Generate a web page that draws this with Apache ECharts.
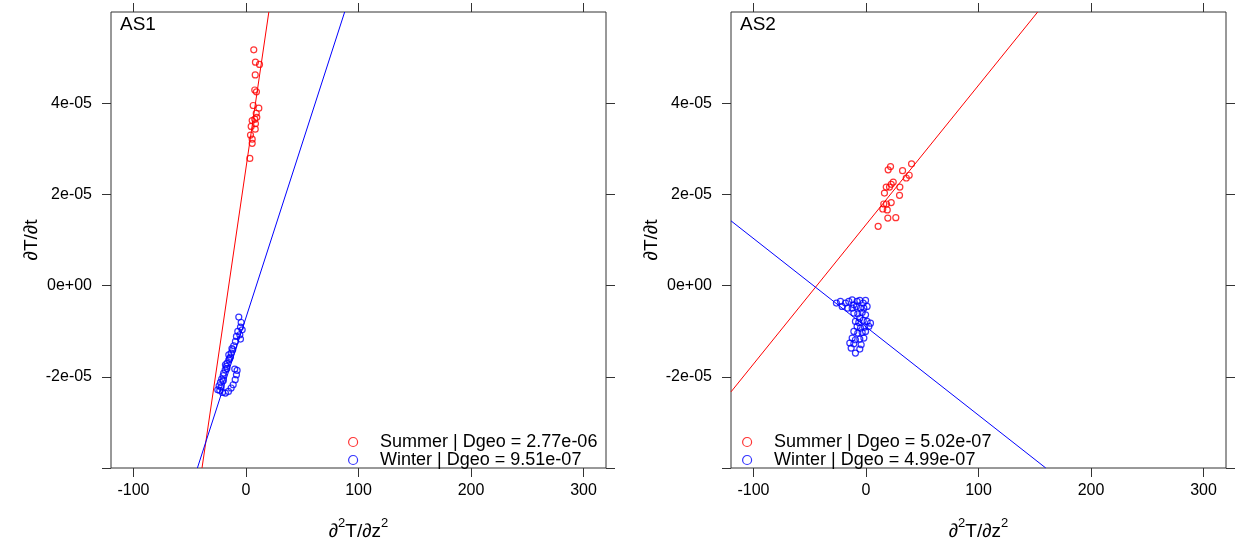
<!DOCTYPE html>
<html>
<head>
<meta charset="utf-8">
<script src="https://cdn.jsdelivr.net/npm/echarts@6/dist/echarts.min.js"></script>
<style>html,body{margin:0;padding:0;background:#fff}#c{width:1241px;height:546px}</style>
</head>
<body>
<div id="c"></div>
<script>
// ---------- data ----------
const panelTitles = ['AS1', 'AS2'];
const xTicks = [-100, 0, 100, 200, 300];
const yTickVals = [-4e-5, -2e-5, 0, 2e-5, 4e-5];
const yLabelVals = [-2e-5, 0, 2e-5, 4e-5];
const xRange = [-120, 320];
const yRange = [-4e-5, 6e-5];
const legendNames = [
  ['Summer | Dgeo = 2.77e-06', 'Winter | Dgeo = 9.51e-07'],
  ['Summer | Dgeo = 5.02e-07', 'Winter | Dgeo = 4.99e-07']
];

// AS1 summer points
const as1SummerX = [6.9, 8.4, 12.0, 8.2, 7.8, 9.3, 6.4, 11.4, 9.1, 9.6, 5.5, 7.8, 4.6, 8.4, 8.2, 4.0, 5.5, 5.5, 3.4];
const as1SummerY = [5.17e-5, 4.90e-5, 4.85e-5, 4.62e-5, 4.29e-5, 4.25e-5, 3.95e-5, 3.89e-5, 3.78e-5, 3.69e-5, 3.62e-5, 3.65e-5, 3.49e-5, 3.55e-5, 3.43e-5, 3.30e-5, 3.21e-5, 3.12e-5, 2.79e-5];
// AS1 winter points
const as1WinterX = [-6.4, -4.3, -4.9, -3.4, -7.3, -5.5, -8.5, -4.9, -9.4, -10.9, -11.8, -13.2, -13.8, -15.3, -16.8, -17.4, -18.5, -19.8, -20.3, -21.6, -22.7, -23.9, -25.1, -22.1, -18.3, -15.3, -12.5, -14.6, -17.0, -20.1, -10.0, -7.9, -8.5, -9.6, -11.4, -13.2, -15.6, -18.3, -20.9, -23.3];
const as1WinterY = [-6.9e-6, -8.09e-6, -9.09e-6, -9.69e-6, -1.006e-5, -1.078e-5, -1.115e-5, -1.172e-5, -1.225e-5, -1.319e-5, -1.407e-5, -1.479e-5, -1.567e-5, -1.626e-5, -1.698e-5, -1.773e-5, -1.845e-5, -1.918e-5, -1.977e-5, -2.049e-5, -2.124e-5, -2.196e-5, -2.284e-5, -2.224e-5, -1.736e-5, -1.517e-5, -1.380e-5, -1.600e-5, -1.820e-5, -2.080e-5, -1.830e-5, -1.861e-5, -1.955e-5, -2.064e-5, -2.174e-5, -2.246e-5, -2.321e-5, -2.356e-5, -2.343e-5, -2.299e-5];
// AS2 summer points
const as2SummerX = [21.8, 19.7, 32.5, 40.5, 38.4, 35.8, 24.2, 22.4, 18.0, 30.1, 16.4, 20.9, 29.8, 15.8, 22.4, 18.2, 14.9, 18.9, 19.4, 26.5, 10.8];
const as2SummerY = [2.61e-5, 2.54e-5, 2.52e-5, 2.67e-5, 2.42e-5, 2.36e-5, 2.27e-5, 2.22e-5, 2.16e-5, 2.16e-5, 2.03e-5, 2.16e-5, 1.98e-5, 1.79e-5, 1.82e-5, 1.79e-5, 1.68e-5, 1.66e-5, 1.48e-5, 1.49e-5, 1.30e-5];
// AS2 winter points
const as2WinterX = [-26.3, -22.7, -21.2, -18.2, -15.3, -12.3, -10.8, -7.9, -5.5, -2.5, -0.4, -16.2, -12.3, -8.5, -4.9, -1.9, 1.0, -10.8, -7.3, -3.4, -0.4, -5.5, -9.4, -6.4, -2.5, 1.0, 4.0, -7.9, -4.9, -1.3, 2.5, -10.8, -7.3, -3.4, -0.4, -12.3, -9.4, -5.5, -1.9, -14.4, -10.8, -4.3, -13.2, -5.5, -9.4];
const as2WinterY = [-3.84e-6, -3.48e-6, -4.57e-6, -3.84e-6, -3.48e-6, -3.11e-6, -4.21e-6, -3.48e-6, -3.26e-6, -3.84e-6, -3.26e-6, -4.94e-6, -4.94e-6, -4.57e-6, -4.94e-6, -4.94e-6, -4.57e-6, -6.03e-6, -6.18e-6, -5.89e-6, -6.40e-6, -7.13e-6, -7.86e-6, -8.08e-6, -7.64e-6, -7.86e-6, -8.23e-6, -8.96e-6, -9.32e-6, -9.10e-6, -8.96e-6, -1.005e-5, -1.042e-5, -1.027e-5, -1.005e-5, -1.151e-5, -1.188e-5, -1.173e-5, -1.151e-5, -1.261e-5, -1.275e-5, -1.297e-5, -1.370e-5, -1.392e-5, -1.480e-5];

// fitted lines (endpoints where they leave the panel)
const as1SummerLineX = [-39.1, 20.3];
const as1SummerLineY = [-4e-5, 6e-5];
const as1WinterLineX = [-43.2, 87.7];
const as1WinterLineY = [-4e-5, 6e-5];
const as2SummerLineX = [-120, 152.6];
const as2SummerLineY = [-2.33e-5, 6e-5];
const as2WinterLineX = [-120, 159.8];
const as2WinterLineY = [1.42e-5, -4e-5];

// ---------- chart ----------
const RED = '#ff0000', BLUE = '#0000ff';
const zip = (xs, ys) => xs.map((x, i) => [x, ys[i]]);
const fmtY = v => {
  if (Math.abs(v) < 1e-12) return '0e+00';
  const e = Math.floor(Math.log10(Math.abs(v)) + 1e-9);
  const m = Math.round(v / Math.pow(10, e));
  return m + 'e' + (e < 0 ? '-' : '+') + String(Math.abs(e)).padStart(2, '0');
};
const FONT = 'Liberation Sans, Arial, sans-serif';
const grids = [
  { left: 111, top: 12, width: 495, height: 456 },
  { left: 731, top: 12, width: 495, height: 456 }
];
const tickStyle = { color: '#333', width: 1 };
const noLine = { show: false, onZero: false };
const xAxes = [], yAxes = [];
[0, 1].forEach(g => {
  xAxes.push({
    gridIndex: g, type: 'value', min: xRange[0], max: xRange[1], position: 'bottom',
    axisLine: noLine,
    axisTick: { show: true, customValues: xTicks, length: 9, lineStyle: tickStyle },
    axisLabel: { customValues: xTicks, margin: 15, fontSize: 16, color: '#000', fontFamily: FONT },
    splitLine: { show: false },
    name: '{a|∂}{s|2}{a|T/∂z}{s|2}', nameLocation: 'middle', nameGap: 49,
    nameTextStyle: {
      fontFamily: FONT, color: '#000',
      rich: {
        a: { fontSize: 19, lineHeight: 24, fontFamily: FONT, color: '#000', verticalAlign: 'bottom' },
        s: { fontSize: 13, lineHeight: 24, fontFamily: FONT, color: '#000', verticalAlign: 'top' }
      }
    }
  });
  xAxes.push({
    gridIndex: g, type: 'value', min: xRange[0], max: xRange[1], position: 'top',
    axisLine: noLine,
    axisTick: { show: true, customValues: xTicks, length: 9, lineStyle: tickStyle },
    axisLabel: { show: false }, splitLine: { show: false }
  });
  yAxes.push({
    gridIndex: g, type: 'value', min: yRange[0], max: yRange[1], position: 'left',
    axisLine: noLine,
    axisTick: { show: true, customValues: yTickVals, length: 9, lineStyle: tickStyle },
    axisLabel: { customValues: yLabelVals, margin: 19, fontSize: 16, color: '#000', fontFamily: FONT, formatter: fmtY },
    splitLine: { show: false },
    name: '∂T/∂t', nameLocation: 'middle', nameGap: 70,
    nameTextStyle: { fontSize: 19, color: '#000', fontFamily: FONT }
  });
  yAxes.push({
    gridIndex: g, type: 'value', min: yRange[0], max: yRange[1], position: 'right',
    axisLine: noLine,
    axisTick: { show: true, customValues: yTickVals, length: 9, lineStyle: tickStyle },
    axisLabel: { show: false }, splitLine: { show: false }
  });
});

const scatter = (name, g, data, color) => ({
  name, type: 'scatter', xAxisIndex: g * 2, yAxisIndex: g * 2, data,
  symbol: 'circle', symbolSize: 6,
  itemStyle: { color: 'transparent', borderColor: color, borderWidth: 1.2 },
  emphasis: { disabled: true }, z: 2
});
const fitLine = (name, g, data, color) => ({
  name, type: 'line', xAxisIndex: g * 2, yAxisIndex: g * 2, data,
  showSymbol: false, symbol: 'none', clip: true,
  lineStyle: { color, width: 1 }, emphasis: { disabled: true }, z: 3
});

const series = [
  scatter(legendNames[0][0], 0, zip(as1SummerX, as1SummerY), RED),
  scatter(legendNames[0][1], 0, zip(as1WinterX, as1WinterY), BLUE),
  fitLine('fit-as1-s', 0, zip(as1SummerLineX, as1SummerLineY), RED),
  fitLine('fit-as1-w', 0, zip(as1WinterLineX, as1WinterLineY), BLUE),
  scatter(legendNames[1][0], 1, zip(as2SummerX, as2SummerY), RED),
  scatter(legendNames[1][1], 1, zip(as2WinterX, as2WinterY), BLUE),
  fitLine('fit-as2-s', 1, zip(as2SummerLineX, as2SummerLineY), RED),
  fitLine('fit-as2-w', 1, zip(as2WinterLineX, as2WinterLineY), BLUE)
];

const legendLefts = [348, 742];
const legends = [0, 1].map(g => ({
  orient: 'vertical', left: legendLefts[g], top: 433, padding: 0,
  itemWidth: 44, itemHeight: 9, itemGap: 0, selectedMode: false,
  textStyle: { fontSize: 18, lineHeight: 17, color: '#000', fontFamily: FONT },
  data: [
    { name: legendNames[g][0], icon: 'circle', itemStyle: { color: 'transparent', borderColor: RED, borderWidth: 1.2 } },
    { name: legendNames[g][1], icon: 'circle', itemStyle: { color: 'transparent', borderColor: BLUE, borderWidth: 1.2 } }
  ]
}));

const titles = [0, 1].map(g => ({
  text: panelTitles[g], left: grids[g].left + 9, top: 15, padding: 0,
  textStyle: { fontSize: 19, fontWeight: 'normal', color: '#000', fontFamily: FONT }
}));

const chart = echarts.init(document.getElementById('c'), null, { renderer: 'canvas' });
chart.setOption({
  animation: false,
  backgroundColor: '#fff',
  title: titles,
  legend: legends,
  grid: grids.map(g => Object.assign({ show: true, borderColor: '#333', borderWidth: 1, backgroundColor: 'transparent' }, g)),
  xAxis: xAxes,
  yAxis: yAxes,
  series
});
</script>
</body>
</html>
